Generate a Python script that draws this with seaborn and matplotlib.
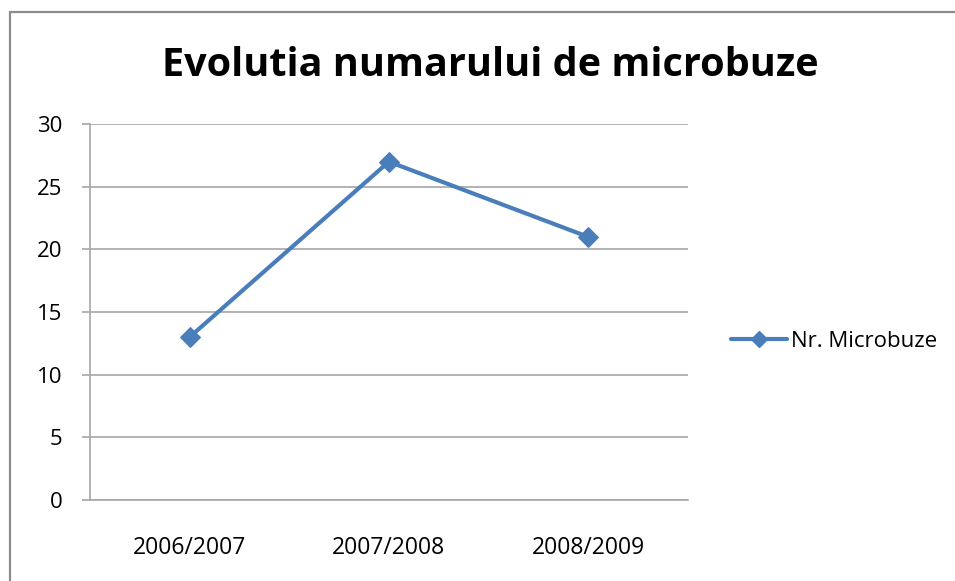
import pandas as pd
import numpy as np
import matplotlib
matplotlib.use("Agg")
import matplotlib.pyplot as plt
from matplotlib.patches import Rectangle
from matplotlib.lines import Line2D
import seaborn as sns

# date
ani = ["2006/2007", "2007/2008", "2008/2009"]
microbuze = [13, 27, 21]
eticheta = "Nr. Microbuze"
titlu = "Evolutia numarului de microbuze"
y_ticks = [0, 5, 10, 15, 20, 25, 30]

df = pd.DataFrame({"an": ani, "nr": microbuze})

sns.set_style("white")
plt.rcParams['font.family'] = ['Open Sans', 'DejaVu Sans']
plt.rcParams['text.color'] = 'black'
plt.rcParams['xtick.color'] = 'black'
plt.rcParams['ytick.color'] = 'black'

albastru = "#4a7ebb"
gri = "#a6a6a6"

fig = plt.figure(figsize=(9.55, 5.81), dpi=100)
ax = fig.add_axes([0.0942, 0.1394, 0.626, 0.647])

sns.lineplot(data=df, x="an", y="nr", ax=ax, sort=False, color=albastru,
             linewidth=3, marker="D", markersize=10, markeredgecolor=albastru)

ax.set_xlim(-0.5, len(ani) - 0.5)
ax.set_ylim(0, 30)
ax.set_yticks(y_ticks)
ax.yaxis.grid(True, color=gri, linewidth=1.2)
ax.set_axisbelow(True)
ax.set_xlabel("")
ax.set_ylabel("")

for s in ["top", "right"]:
    ax.spines[s].set_visible(False)
ax.spines["left"].set_color(gri)
ax.spines["bottom"].set_color(gri)
ax.spines["left"].set_linewidth(1.2)
ax.spines["bottom"].set_linewidth(1.2)

# tick-uri intre categorii, ca in Excel
ax.set_xticks(np.arange(-0.5, len(ani), 1.0), minor=True)
ax.tick_params(axis="x", which="minor", length=6, color=gri, width=1.2)
ax.tick_params(axis="x", which="major", length=0, pad=26, labelsize=16.5,
               labelcolor="black")
ax.tick_params(axis="y", length=6, color=gri, width=1.2, pad=14, labelsize=16,
               left=True, labelcolor="black")

fig.text(0.513, 0.888, titlu, ha="center", va="center", fontsize=28.5,
         fontweight="bold", color="black", family=["Open Sans", "DejaVu Sans"])

# chenar exterior
fig.patches.append(Rectangle((10 / 955, -0.05), 1.1, 0.979 + 0.05,
                             transform=fig.transFigure, fill=False,
                             edgecolor="#8c8c8c", linewidth=1.6))

h = Line2D([], [], color=albastru, linewidth=3, marker="D", markersize=8)
fig.legend([h], [eticheta], loc="center left", bbox_to_anchor=(0.745, 0.413),
           frameon=False, fontsize=16, handlelength=2.5, handletextpad=0.2)

plt.savefig("out.png", dpi=100)
